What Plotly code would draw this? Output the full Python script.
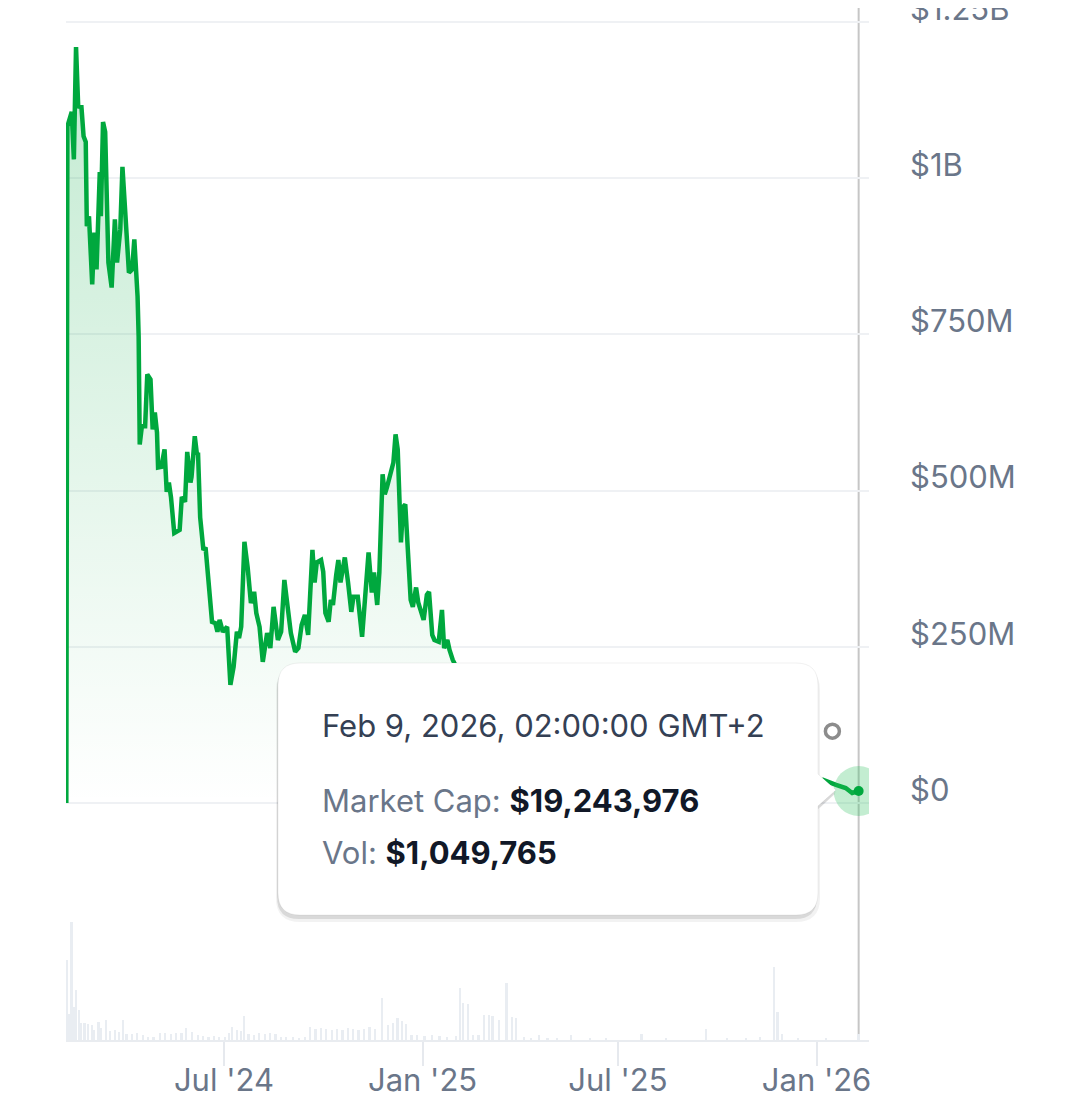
import plotly.graph_objects as go

# market cap in $M (values behind the tooltip are estimates)
cap_dates = [
    "2024-02-06", "2024-02-07", "2024-02-11", "2024-02-13", "2024-02-15", "2024-02-17", "2024-02-20", "2024-02-22", "2024-02-24", "2024-02-25", "2024-02-27",
    "2024-03-01", "2024-03-03", "2024-03-05", "2024-03-08", "2024-03-09", "2024-03-11", "2024-03-13", "2024-03-16", "2024-03-19", "2024-03-22", "2024-03-24", "2024-03-27", "2024-03-29",
    "2024-04-01", "2024-04-04", "2024-04-07", "2024-04-09", "2024-04-12", "2024-04-13", "2024-04-14", "2024-04-16", "2024-04-19", "2024-04-21", "2024-04-24", "2024-04-26", "2024-04-28", "2024-04-30",
    "2024-05-01", "2024-05-04", "2024-05-07", "2024-05-09", "2024-05-11", "2024-05-13", "2024-05-16", "2024-05-21", "2024-05-23", "2024-05-26", "2024-05-28", "2024-05-31",
    "2024-06-01", "2024-06-04", "2024-06-06", "2024-06-07", "2024-06-09", "2024-06-12", "2024-06-14", "2024-06-16", "2024-06-17", "2024-06-20", "2024-06-23", "2024-06-25", "2024-06-27", "2024-06-30",
    "2024-07-04", "2024-07-07", "2024-07-10", "2024-07-13", "2024-07-15", "2024-07-17", "2024-07-20", "2024-07-23", "2024-07-26", "2024-07-29", "2024-07-31",
    "2024-08-03", "2024-08-06", "2024-08-10", "2024-08-13", "2024-08-16", "2024-08-20", "2024-08-23", "2024-08-26", "2024-08-29",
    "2024-09-01", "2024-09-05", "2024-09-08", "2024-09-11", "2024-09-14", "2024-09-17", "2024-09-19", "2024-09-21", "2024-09-23", "2024-09-25", "2024-09-29",
    "2024-10-01", "2024-10-03", "2024-10-06", "2024-10-08", "2024-10-10", "2024-10-13", "2024-10-15", "2024-10-17", "2024-10-21", "2024-10-24", "2024-10-27", "2024-10-29",
    "2024-11-02", "2024-11-06", "2024-11-09", "2024-11-12", "2024-11-15", "2024-11-17", "2024-11-20", "2024-11-22", "2024-11-25", "2024-11-27", "2024-11-29",
    "2024-12-02", "2024-12-05", "2024-12-07", "2024-12-09", "2024-12-12", "2024-12-14", "2024-12-16", "2024-12-19", "2024-12-21", "2024-12-23", "2024-12-26", "2024-12-28", "2024-12-30",
    "2025-01-02", "2025-01-05", "2025-01-07", "2025-01-10", "2025-01-12", "2025-01-16", "2025-01-19", "2025-01-21", "2025-01-24", "2025-01-26", "2025-01-29",
    "2025-02-05", "2025-02-12", "2025-02-19", "2025-02-26", "2025-03-05", "2025-03-12", "2025-03-19", "2025-03-26",
    "2025-04-02", "2025-04-09", "2025-04-16", "2025-04-23", "2025-04-30", "2025-05-07", "2025-05-14", "2025-05-21", "2025-05-28",
    "2025-06-04", "2025-06-11", "2025-06-18", "2025-06-25", "2025-07-02", "2025-07-09", "2025-07-16", "2025-07-23", "2025-07-30",
    "2025-08-06", "2025-08-13", "2025-08-20", "2025-08-27", "2025-09-03", "2025-09-10", "2025-09-17", "2025-09-24",
    "2025-10-01", "2025-10-08", "2025-10-15", "2025-10-22", "2025-10-29", "2025-11-05", "2025-11-12", "2025-11-19", "2025-11-26",
    "2025-12-03", "2025-12-10", "2025-12-17", "2025-12-24", "2025-12-31",
    "2026-01-07", "2026-01-19", "2026-01-28", "2026-02-03", "2026-02-09",
]
cap_values = [
    0, 1083, 1106, 1030, 1210, 1115, 1114, 1067, 1058, 923, 939,
    830, 913, 854, 1010, 939, 1090, 1074, 865, 825, 934, 865, 918, 1018,
    934, 849, 854, 902, 811, 747, 574, 603, 603, 686, 678, 598, 625, 593,
    537, 538, 566, 498, 513, 489, 432, 437, 490, 482, 562, 513,
    522, 587, 558, 561, 457, 405, 409, 361, 353, 290, 288, 274, 293, 274,
    282, 189, 218, 274, 264, 282, 418, 377, 320, 338, 304,
    282, 226, 272, 248, 314, 261, 274, 357, 309,
    272, 242, 248, 285, 301, 269, 337, 405, 353, 385, 389,
    370, 304, 290, 325, 317, 365, 389, 353, 393, 353, 306, 330,
    330, 266, 325, 401, 337, 369, 317, 369, 526, 494, 505,
    529, 545, 590, 566, 417, 474, 478, 386, 325, 314, 345, 321, 309,
    293, 333, 338, 269, 261, 258, 309, 248, 261, 245, 229,
    205, 185, 170, 150, 140, 125, 132, 118,
    105, 92, 100, 112, 104, 118, 125, 110, 98,
    92, 85, 78, 72, 76, 82, 90, 86, 79,
    74, 70, 66, 62, 60, 64, 58, 55,
    57, 52, 44, 46, 43, 40, 38, 35, 36,
    34, 38, 36, 33, 35,
    37, 29, 24, 16, 19.243976,
]

# volume in $M
vol_dates = [
    "2024-02-07", "2024-02-09", "2024-02-11", "2024-02-13", "2024-02-15", "2024-02-18", "2024-02-20", "2024-02-23", "2024-02-26",
    "2024-03-01", "2024-03-03", "2024-03-07", "2024-03-09", "2024-03-14", "2024-03-18", "2024-03-22", "2024-03-26", "2024-03-30",
    "2024-04-02", "2024-04-07", "2024-04-12", "2024-04-17", "2024-04-22", "2024-04-27",
    "2024-05-03", "2024-05-08", "2024-05-13", "2024-05-18", "2024-05-23", "2024-05-27",
    "2024-06-02", "2024-06-07", "2024-06-12", "2024-06-17", "2024-06-22", "2024-06-27",
    "2024-07-02", "2024-07-06", "2024-07-09", "2024-07-13", "2024-07-17", "2024-07-20", "2024-07-24", "2024-07-29",
    "2024-08-03", "2024-08-08", "2024-08-13", "2024-08-18", "2024-08-23", "2024-08-28",
    "2024-09-03", "2024-09-09", "2024-09-14", "2024-09-19", "2024-09-24", "2024-09-29",
    "2024-10-04", "2024-10-09", "2024-10-14", "2024-10-19", "2024-10-24", "2024-10-29",
    "2024-11-03", "2024-11-08", "2024-11-13", "2024-11-18", "2024-11-25", "2024-11-30",
    "2024-12-05", "2024-12-09", "2024-12-13", "2024-12-17", "2024-12-22", "2024-12-27",
    "2025-01-03", "2025-01-10", "2025-01-17", "2025-01-24",
    "2025-02-01", "2025-02-05", "2025-02-08", "2025-02-12", "2025-02-17", "2025-02-22", "2025-02-27",
    "2025-03-04", "2025-03-07", "2025-03-13", "2025-03-20", "2025-03-25", "2025-03-29",
    "2025-04-05", "2025-04-12", "2025-04-19", "2025-04-27", "2025-05-06", "2025-05-19",
    "2025-06-05", "2025-06-20", "2025-07-23", "2025-08-15", "2025-09-21", "2025-10-10", "2025-10-28",
    "2025-11-10", "2025-11-23", "2025-11-26", "2025-11-30", "2025-12-15", "2026-01-10", "2026-02-09",
]
vol_values = [
    14.0, 4.5, 20.7, 5.8, 8.8, 5.2, 3.0, 3.0, 2.8,
    2.6, 1.8, 3.2, 2.1, 3.5, 1.6, 1.8, 1.4, 3.5,
    1.1, 1.0, 1.2, 0.9, 0.6, 0.5,
    1.2, 1.3, 1.1, 1.2, 1.3, 2.1,
    1.4, 0.8, 0.7, 0.6, 0.7, 0.5,
    0.5, 1.2, 2.3, 1.8, 1.6, 4.2, 1.0, 0.9,
    1.2, 1.1, 1.2, 1.0, 0.6, 0.5,
    0.5, 0.4, 0.5, 2.3, 1.9, 2.1,
    1.9, 1.7, 2.0, 1.8, 2.1, 1.9,
    1.7, 2.0, 2.3, 1.9, 7.4, 2.6,
    3.0, 3.9, 3.4, 2.8, 0.9, 0.9,
    0.7, 0.8, 0.7, 0.6,
    0.7, 9.1, 6.5, 6.3, 0.9, 0.8, 4.4,
    4.4, 4.2, 3.5, 10.0, 4.0, 3.8,
    0.5, 0.4, 0.9, 0.4, 0.4, 0.9,
    0.3, 0.3, 1.1, 0.3, 1.9, 0.4, 0.4,
    0.5, 12.8, 4.9, 1.0, 0.3, 0.3, 1.049765,
]

hover_date = "2026-02-09"
hover_cap = 19.243976
event_date = "2026-01-15 16:00"
event_cap = 115

y_tickvals = [0, 250, 500, 750, 1000, 1250]
y_ticktext = ["$0", "$250M", "$500M", "$750M", "$1B", "$1.25B"]
x_tickvals = ["2024-07-01", "2025-01-01", "2025-07-01", "2026-01-01"]
x_ticktext = ["Jul '24", "Jan '25", "Jul '25", "Jan '26"]

tip_title = "Feb 9, 2026, 02:00:00 GMT+2"
tip_cap = "$19,243,976"
tip_vol = "$1,049,765"

GREEN = "#00a83e"
LABEL = "#6a7689"
FONT = "Inter"
FS = 31

# the page body has an 8px margin, so the figure is a bit smaller than the window
OFF = 8
W, H = 1080 - OFF, 1105 - OFF
L, R, T, B = 66, 869, 8, 1040  # plot area in window pixels


def px(x):
    return (x - L) / (R - L)


def py(y):
    return 1 - (y - T) / (B - T)


def tip_path(x0, y0, x1, y1, r, dx=0, dy=0):
    x0, x1 = x0 + dx, x1 + dx
    y0, y1 = y0 + dy, y1 + dy
    pts = [
        ("M", x0 + r, y0), ("L", x1 - r, y0), ("Q", x1, y0, x1, y0 + r),
        ("L", x1, 774 + dy), ("L", 836 + dx, 790 + dy), ("L", x1, 806 + dy),
        ("L", x1, y1 - r), ("Q", x1, y1, x1 - r, y1), ("L", x0 + r, y1),
        ("Q", x0, y1, x0, y1 - r), ("L", x0, y0 + r), ("Q", x0, y0, x0 + r, y0),
    ]
    s = ""
    for p in pts:
        coords = p[1:]
        s += p[0] + " " + " ".join(
            "%.5f,%.5f" % (px(coords[i]), py(coords[i + 1])) for i in range(0, len(coords), 2)
        ) + " "
    return s + "Z"


fig = go.Figure()

fig.add_trace(go.Bar(
    x=vol_dates, y=vol_values, yaxis="y2",
    marker=dict(color="#e9edf2", line=dict(width=0)),
    width=1.6 * 86400000, showlegend=False,
))

fig.add_trace(go.Scatter(
    x=cap_dates, y=cap_values, mode="lines",
    line=dict(color=GREEN, width=4.5),
    fill="tozeroy",
    fillgradient=dict(type="vertical",
                      colorscale=[[0, "rgba(0,168,62,0)"], [1, "rgba(0,168,62,0.24)"]]),
    showlegend=False,
))

fig.add_trace(go.Scatter(
    x=[event_date], y=[event_cap], mode="markers",
    marker=dict(symbol="circle-open", size=14, color="#8c8c8c", line=dict(width=3.5, color="#8c8c8c")),
    showlegend=False,
))

fig.add_trace(go.Scatter(
    x=[hover_date], y=[hover_cap], mode="markers",
    marker=dict(size=50, color="rgba(40,190,90,0.28)", line=dict(width=0)),
    showlegend=False,
))
fig.add_trace(go.Scatter(
    x=[hover_date], y=[hover_cap], mode="markers",
    marker=dict(size=10, color=GREEN, line=dict(width=0)),
    showlegend=False,
))

# crosshair
fig.add_shape(type="line", xref="x", yref="paper", x0=hover_date, x1=hover_date, y0=0, y1=py(0),
              line=dict(color="#c6c6c6", width=2), layer="below")

# tooltip with shadow
fig.add_shape(type="path", xref="paper", yref="paper", path=tip_path(276, 664, 820, 920, 24, 0, 2),
              fillcolor="rgba(0,0,0,0.05)", line=dict(width=0), layer="above")
fig.add_shape(type="path", xref="paper", yref="paper", path=tip_path(278, 663, 818, 915, 22, -1, 4),
              fillcolor="rgba(0,0,0,0.10)", line=dict(width=0), layer="above")
fig.add_shape(type="path", xref="paper", yref="paper", path=tip_path(278, 663, 818, 915, 22),
              fillcolor="white", line=dict(color="rgba(0,0,0,0.06)", width=1), layer="above")

fig.add_annotation(xref="paper", yref="paper", x=px(320), y=py(725), xanchor="left", yanchor="middle",
                   text=tip_title, showarrow=False, font=dict(family=FONT, size=FS, color="#344054"))
fig.add_annotation(xref="paper", yref="paper", x=px(320), y=py(800), xanchor="left", yanchor="middle",
                   text="Market Cap: <b><span style='color:#111827'>" + tip_cap + "</span></b>",
                   showarrow=False, font=dict(family=FONT, size=FS, color=LABEL))
fig.add_annotation(xref="paper", yref="paper", x=px(320), y=py(852), xanchor="left", yanchor="middle",
                   text="Vol: <b><span style='color:#111827'>" + tip_vol + "</span></b>",
                   showarrow=False, font=dict(family=FONT, size=FS, color=LABEL))

fig.update_layout(
    width=W, height=H,
    margin=dict(l=L - OFF, r=W - (R - OFF), t=T - OFF, b=H - (B - OFF)),
    paper_bgcolor="white", plot_bgcolor="white",
    font=dict(family=FONT, color=LABEL),
    bargap=0,
    xaxis=dict(
        type="date", range=["2024-02-05 17:00", "2026-02-18 14:00"],
        tickvals=x_tickvals, ticktext=x_ticktext,
        tickfont=dict(family=FONT, size=FS, color=LABEL),
        ticks="outside", ticklen=24, tickwidth=2, tickcolor="#e6e9ee",
        ticklabelstandoff=-12, automargin=False,
        showline=True, linecolor="#e9ecf0", linewidth=2,
        showgrid=False, zeroline=False, fixedrange=True,
    ),
    yaxis=dict(
        side="right", range=[-379.3, 1272.4],
        tickvals=y_tickvals, ticktext=y_ticktext,
        tickfont=dict(family=FONT, size=FS, color=LABEL),
        ticklabelstandoff=40, ticklabelshift=-13, ticklabeloverflow="allow",
        automargin=False,
        showgrid=True, gridcolor="#eff1f4", gridwidth=2,
        zeroline=False, showline=False, ticks="",
    ),
    yaxis2=dict(overlaying="y", range=[0, 181], visible=False, showgrid=False),
)

fig.write_html("out.html")
